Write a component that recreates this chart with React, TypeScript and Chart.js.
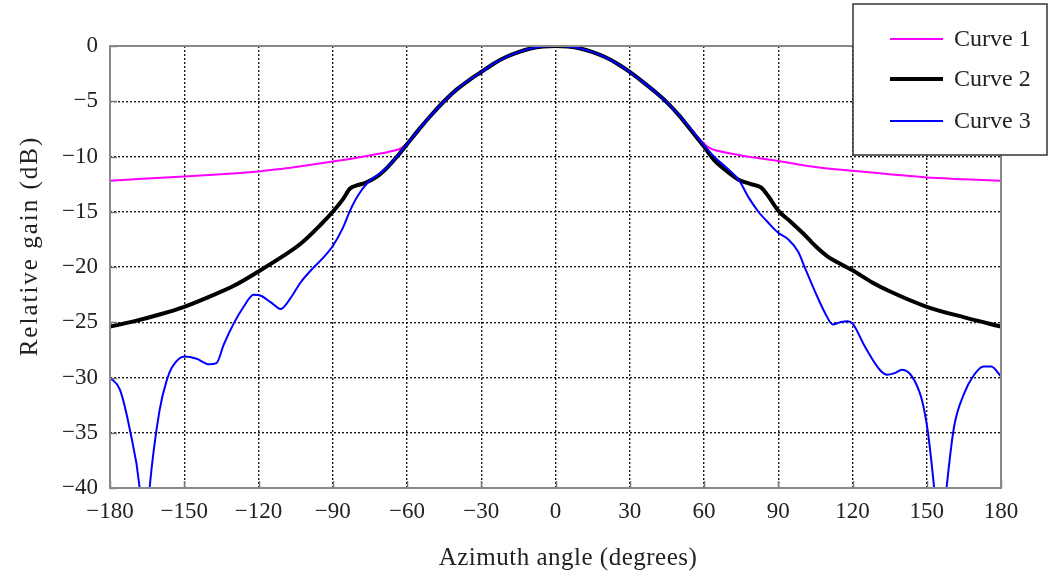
import React, { useEffect, useRef } from "react";
import { Chart, registerables } from "chart.js";

Chart.register(...registerables);

// Curve 1 (magenta)
const angles1 = [-180, -165, -150, -135, -120, -105, -90, -75, -66, -62, -55, -50, -45, -40, -35, -30, -25, -20, -15, -10, -5, 0, 5, 10, 15, 20, 25, 30, 35, 40, 45, 50, 55, 62, 66, 75, 90, 105, 120, 135, 150, 165, 180];
const gain1 = [-12.2, -12.0, -11.8, -11.6, -11.35, -10.95, -10.45, -9.9, -9.5, -9.2, -7.5, -6.2, -5.0, -3.95, -3.1, -2.35, -1.6, -1.0, -0.55, -0.22, -0.05, 0, -0.05, -0.22, -0.55, -1.0, -1.6, -2.35, -3.2, -4.1, -5.1, -6.3, -7.6, -9.2, -9.5, -9.9, -10.4, -10.95, -11.3, -11.6, -11.9, -12.05, -12.2];

// Curve 2 (black)
const angles2 = [-180, -170, -160, -150, -140, -130, -120, -110, -103, -95, -90, -86, -83, -80, -77, -72, -68, -64, -60, -55, -50, -45, -40, -35, -30, -25, -20, -15, -10, -5, 0, 5, 10, 15, 20, 25, 30, 35, 40, 45, 50, 55, 60, 64, 68, 74, 79, 83, 86, 90, 95, 100, 105, 110, 115, 120, 128, 135, 150, 166, 180];
const gain2 = [-25.4, -24.9, -24.3, -23.6, -22.7, -21.7, -20.4, -19.0, -17.9, -16.2, -15.0, -13.9, -12.9, -12.6, -12.4, -11.8, -11.0, -10.0, -8.9, -7.5, -6.2, -5.0, -3.95, -3.1, -2.35, -1.6, -1.0, -0.55, -0.22, -0.05, 0, -0.05, -0.22, -0.55, -1.0, -1.6, -2.35, -3.2, -4.1, -5.1, -6.3, -7.7, -9.1, -10.3, -11.1, -12.1, -12.5, -12.8, -13.6, -14.9, -15.9, -16.95, -18.1, -19.05, -19.7, -20.3, -21.4, -22.2, -23.6, -24.6, -25.4];

// Curve 3 (blue)
const angles3 = [-180, -176, -172, -168, -166, -164, -160, -157, -155, -150, -145, -140, -137, -134, -130, -126, -122, -119, -115, -111, -107, -103, -98, -94, -90, -86, -83, -80, -76, -72, -68, -64, -60, -55, -50, -45, -40, -35, -30, -25, -20, -15, -10, -5, 0, 5, 10, 15, 20, 25, 30, 35, 40, 45, 50, 55, 60, 64, 69, 74, 78, 82, 86, 90, 94, 98, 101, 105, 109, 112, 115, 118, 120, 125, 131, 134, 137, 140, 144, 148, 150.5, 153, 155.5, 158, 161, 165, 169, 173, 176, 180];
const gain3 = [-30.0, -31.1, -34.7, -40, -46, -40, -33, -30.2, -29.1, -28.1, -28.3, -28.8, -28.7, -27.0, -25.1, -23.6, -22.5, -22.6, -23.2, -23.8, -22.8, -21.4, -20.1, -19.2, -18.1, -16.5, -14.9, -13.6, -12.4, -11.7, -11.0, -10.0, -8.9, -7.5, -6.2, -5.0, -3.95, -3.1, -2.35, -1.6, -1.0, -0.55, -0.22, -0.05, 0, -0.05, -0.22, -0.55, -1.0, -1.6, -2.35, -3.2, -4.1, -5.1, -6.3, -7.6, -9.0, -10.0, -11.0, -12.1, -13.7, -15.0, -16.0, -16.9, -17.5, -18.6, -20.2, -22.3, -24.2, -25.2, -25.0, -24.9, -25.1, -27.2, -29.3, -29.75, -29.6, -29.3, -29.9, -32, -35, -40, -46, -40, -34.5, -31.5, -29.8, -29.0, -29.0, -29.9];

const seriesNames = ["Curve 1", "Curve 2", "Curve 3"];
const seriesColors = ["#ff00ff", "#000000", "#0000ff"];
const seriesWidths = [2, 4, 2];

const xTitle = "Azimuth angle (degrees)";
const yTitle = "Relative gain (dB)";

const FONT = "'Liberation Serif', 'Times New Roman', serif";
const TEXT = "#222";

const toPts = (xs: number[], ys: number[]) => xs.map((x, i) => ({ x, y: ys[i] }));
const fmt = (v: number) => (v < 0 ? "\u2212" + Math.abs(v) : String(v));

const decorPlugin = {
  id: "decor",
  afterDatasetsDraw(chart: any) {
    const { ctx, chartArea } = chart;
    const { left, right, top, bottom } = chartArea;
    const xs = chart.scales.x;
    const ys = chart.scales.y;
    ctx.save();
    ctx.strokeStyle = "#777";
    ctx.lineWidth = 1.5;
    xs.ticks.forEach((t: any) => {
      const px = Math.round(xs.getPixelForValue(t.value)) + 0.5;
      ctx.beginPath();
      ctx.moveTo(px, bottom);
      ctx.lineTo(px, bottom - 7);
      ctx.stroke();
    });
    ys.ticks.forEach((t: any) => {
      const py = Math.round(ys.getPixelForValue(t.value)) + 0.5;
      ctx.beginPath();
      ctx.moveTo(left, py);
      ctx.lineTo(left + 7, py);
      ctx.stroke();
    });
    ctx.strokeStyle = "#888";
    ctx.lineWidth = 2;
    ctx.strokeRect(left, top, right - left, bottom - top);
    ctx.restore();
  },
  afterDraw(chart: any) {
    const { ctx } = chart;
    ctx.save();
    ctx.fillStyle = TEXT;
    ctx.font = `25px ${FONT}`;
    ctx.textAlign = "center";
    ctx.textBaseline = "middle";
    (ctx as any).letterSpacing = "0.5px";
    ctx.fillText(xTitle, 568, 558);
    (ctx as any).letterSpacing = "2px";
    ctx.translate(30, 246);
    ctx.rotate(-Math.PI / 2);
    ctx.fillText(yTitle, 0, 0);
    ctx.restore();

    ctx.save();
    const bx = 853, by = 4, bw = 194, bh = 151;
    ctx.fillStyle = "#fff";
    ctx.fillRect(bx, by, bw, bh);
    ctx.strokeStyle = "#333";
    ctx.lineWidth = 1.5;
    ctx.strokeRect(bx, by, bw, bh);
    const rows = [39, 79, 121];
    ctx.font = `24px ${FONT}`;
    ctx.textAlign = "left";
    ctx.textBaseline = "middle";
    seriesNames.forEach((name, i) => {
      ctx.strokeStyle = seriesColors[i];
      ctx.lineWidth = seriesWidths[i];
      ctx.beginPath();
      ctx.moveTo(890, rows[i]);
      ctx.lineTo(943, rows[i]);
      ctx.stroke();
      ctx.fillStyle = TEXT;
      ctx.fillText(name, 954, rows[i] + 1);
    });
    ctx.restore();
  },
};

export default function App() {
  const ref = useRef<HTMLCanvasElement>(null);
  useEffect(() => {
    if (!ref.current) return;
    const data = [toPts(angles1, gain1), toPts(angles2, gain2), toPts(angles3, gain3)];
    const orders = [2, 1, 0];
    const chart = new Chart(ref.current, {
      type: "line",
      data: {
        datasets: seriesNames.map((name, i) => ({
          label: name,
          data: data[i],
          borderColor: seriesColors[i],
          backgroundColor: seriesColors[i],
          borderWidth: seriesWidths[i],
          pointRadius: 0,
          cubicInterpolationMode: "monotone" as const,
          fill: false,
          order: orders[i],
        })),
      },
      options: {
        responsive: false,
        animation: false,
        devicePixelRatio: 1,
        layout: { padding: { left: 0, top: 46, right: 49, bottom: 0 } },
        plugins: { legend: { display: false }, tooltip: { enabled: false } },
        scales: {
          x: {
            type: "linear",
            min: -180,
            max: 180,
            afterFit: (s: any) => { s.height = 91; },
            ticks: {
              stepSize: 30,
              padding: 10,
              color: TEXT,
              font: { family: FONT, size: 23 },
              callback: (v: any) => fmt(Number(v)),
              maxRotation: 0,
            },
            grid: { color: "#1a1a1a", lineWidth: 1.4, drawTicks: false },
            border: { display: false, dash: [2, 2] } as any,
          },
          y: {
            type: "linear",
            min: -40,
            max: 0,
            afterFit: (s: any) => { s.width = 110; },
            ticks: {
              stepSize: 5,
              padding: 12,
              color: TEXT,
              font: { family: FONT, size: 23 },
              callback: (v: any) => fmt(Number(v)),
            },
            grid: { color: "#1a1a1a", lineWidth: 1.4, drawTicks: false },
            border: { display: false, dash: [2, 2] } as any,
          },
        },
      },
      plugins: [decorPlugin],
    });
    return () => chart.destroy();
  }, []);
  return (
    <div style={{ position: "fixed", left: 0, top: 0, width: 1050, height: 579, background: "#fff" }}>
      <canvas ref={ref} width={1050} height={579} style={{ width: 1050, height: 579 }} />
    </div>
  );
}
